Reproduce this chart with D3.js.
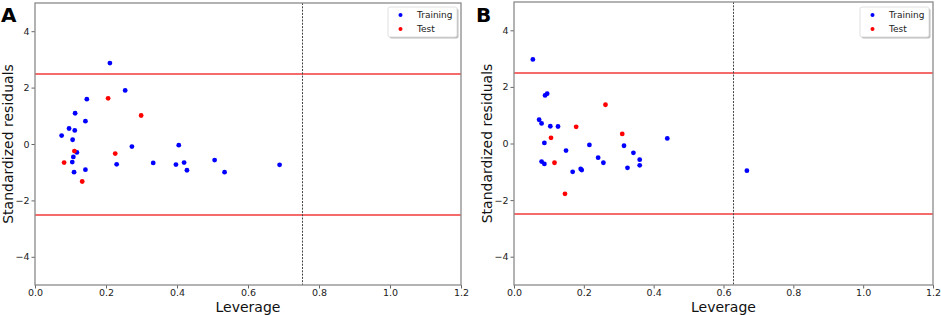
<!DOCTYPE html>
<html><head><meta charset="utf-8">
<script src="https://cdn.jsdelivr.net/npm/d3@7"></script>
<style>
body{margin:0;background:#fff;}
svg{display:block;font-family:"DejaVu Sans",sans-serif;}
</style></head>
<body><svg id="c" width="941" height="315"></svg>
<script>
// ---- data ----
const xTicks = [0.0, 0.2, 0.4, 0.6, 0.8, 1.0, 1.2];
const yTicks = [-4, -2, 0, 2, 4];
const residualLimits = [2.5, -2.5];
const warningLeverage = [0.751, 0.627];   // A, B
const panelLabels = ["A", "B"];
const seriesNames = ["Training", "Test"];

const trainingA = [
  [0.211,2.87],[0.254,1.90],[0.146,1.59],[0.113,1.09],[0.142,0.81],[0.096,0.55],
  [0.112,0.48],[0.075,0.30],[0.106,0.15],[0.118,-0.30],[0.273,-0.09],[0.108,-0.46],
  [0.105,-0.64],[0.230,-0.72],[0.333,-0.67],[0.142,-0.91],[0.110,-1.00],[0.405,-0.04],
  [0.397,-0.73],[0.420,-0.66],[0.428,-0.93],[0.506,-0.57],[0.534,-1.00],[0.689,-0.74]
];
const testA = [
  [0.206,1.62],[0.299,1.01],[0.111,-0.25],[0.226,-0.34],[0.082,-0.66],[0.133,-1.33]
];
const trainingB = [
  [0.054,2.97],[0.089,1.70],[0.095,1.76],[0.072,0.84],[0.079,0.71],[0.104,0.61],
  [0.126,0.60],[0.087,0.02],[0.315,-0.08],[0.216,-0.05],[0.149,-0.25],[0.241,-0.50],
  [0.079,-0.64],[0.087,-0.72],[0.256,-0.68],[0.325,-0.86],[0.168,-1.00],[0.191,-0.90],
  [0.194,-0.94],[0.439,0.18],[0.342,-0.33],[0.360,-0.57],[0.360,-0.77],[0.667,-0.96]
];
const testB = [
  [0.262,1.37],[0.178,0.59],[0.310,0.34],[0.106,0.20],[0.116,-0.68],[0.146,-1.78]
];

// ---- layout ----
const panels = [
  {label: panelLabels[0], train: trainingA, test: testA, hstar: warningLeverage[0],
   left: 35, right: 461, top: 3, bottom: 285, labX: 1},
  {label: panelLabels[1], train: trainingB, test: testB, hstar: warningLeverage[1],
   left: 514, right: 933, top: 2, bottom: 285, labX: 476}
];

const svg = d3.select("#c");

panels.forEach(p => {
  const x = d3.scaleLinear().domain([0, 1.2]).range([p.left, p.right]);
  const y = d3.scaleLinear().domain([-5, 5]).range([p.bottom, p.top]);
  const g = svg.append("g");

  // residual limits
  g.selectAll(".lim").data(residualLimits).join("line").attr("class", "lim")
    .attr("x1", p.left).attr("x2", p.right)
    .attr("y1", d => Math.round(y(d))).attr("y2", d => Math.round(y(d)))
    .attr("stroke", "#f23a3a").attr("stroke-width", 1.3);
  // warning leverage
  g.append("line").attr("x1", Math.round(x(p.hstar)) + 0.5).attr("x2", Math.round(x(p.hstar)) + 0.5)
    .attr("y1", p.top).attr("y2", p.bottom)
    .attr("stroke", "#444").attr("stroke-width", 1).attr("stroke-dasharray", "2,1.3");

  // points
  g.selectAll(".tr").data(p.train).join("circle").attr("class", "tr")
    .attr("cx", d => x(d[0])).attr("cy", d => y(d[1])).attr("r", 2.4).attr("fill", "#0000ff");
  g.selectAll(".te").data(p.test).join("circle").attr("class", "te")
    .attr("cx", d => x(d[0])).attr("cy", d => y(d[1])).attr("r", 2.4).attr("fill", "#ff0000");

  // axes
  const xa = g.append("g").attr("transform", `translate(0,${p.bottom})`)
    .call(d3.axisBottom(x).tickValues(xTicks).tickFormat(d3.format(".1f")).tickSize(3.5).tickPadding(1));
  const ya = g.append("g").attr("transform", `translate(${p.left},0)`)
    .call(d3.axisLeft(y).tickValues(yTicks).tickFormat(d3.format("d")).tickSize(3.5).tickPadding(2));
  [xa, ya].forEach(a => {
    a.select(".domain").remove();
    a.selectAll(".tick line").attr("stroke", "#555").attr("stroke-width", 0.9);
    a.selectAll("text").attr("font-size", 9.5).attr("fill", "#222")
      .attr("font-family", "DejaVu Sans, sans-serif");
  });

  // frame
  g.append("rect").attr("x", p.left).attr("y", p.top)
    .attr("width", p.right - p.left).attr("height", p.bottom - p.top)
    .attr("fill", "none").attr("stroke", "#8a8a8a").attr("stroke-width", 1.3);

  // axis labels
  g.append("text").attr("x", (p.left + p.right) / 2).attr("y", 311.5)
    .attr("text-anchor", "middle").attr("font-size", 14).attr("fill", "#111").text("Leverage");
  g.append("text").attr("transform", `translate(${p.left - 22},${(p.top + p.bottom) / 2}) rotate(-90)`)
    .attr("text-anchor", "middle").attr("font-size", 14).attr("fill", "#111").text("Standardized residuals");

  // panel label
  g.append("text").attr("x", p.labX).attr("y", 22).attr("font-size", 20)
    .attr("font-weight", "bold").attr("fill", "#000").text(p.label);

  // legend
  const lw = 69, lh = 30, lx = p.right - 4 - lw, ly = 7;
  g.append("rect").attr("x", lx + 1.5).attr("y", ly + 1.5).attr("width", lw).attr("height", lh)
    .attr("rx", 2).attr("fill", "#bdbdbd");
  g.append("rect").attr("x", lx).attr("y", ly).attr("width", lw).attr("height", lh)
    .attr("rx", 2).attr("fill", "#fff").attr("stroke", "#d8d8d8").attr("stroke-width", 0.8);
  const colors = ["#0000ff", "#ff0000"];
  seriesNames.forEach((s, i) => {
    const cy = ly + 8 + i * 14;
    g.append("circle").attr("cx", lx + 12.5).attr("cy", cy).attr("r", 2).attr("fill", colors[i]);
    g.append("text").attr("x", lx + 29).attr("y", cy + 3.3).attr("font-size", 9)
      .attr("fill", "#222").text(s);
  });
});
</script></body></html>
